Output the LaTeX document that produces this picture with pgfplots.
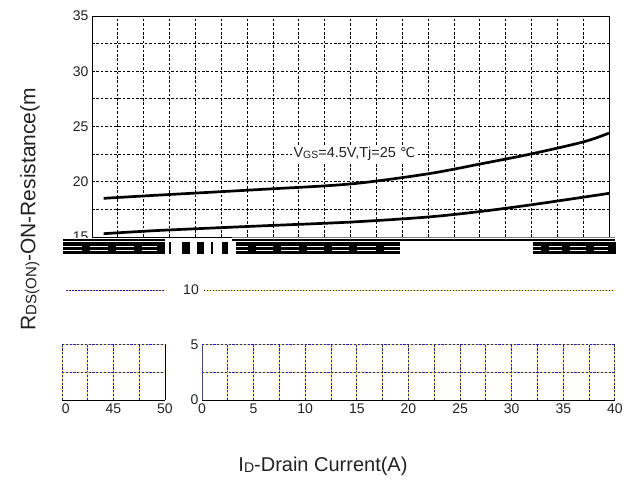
\documentclass[border=0pt]{standalone}
\usepackage{fontspec}
\setmainfont{Liberation Sans}
\newfontfamily\dejavu{DejaVu Sans}
\usepackage{pgfplots}
\pgfplotsset{compat=1.18}
\definecolor{gridyel}{HTML}{EEDC30}
\definecolor{gridblu}{HTML}{2020C8}
\definecolor{txt}{HTML}{222222}

\pgfplotsset{
  ticklbl/.style={
    tick label style={font=\fontsize{14}{14}\selectfont, text=txt},
    /pgf/number format/assume math mode=true,
    major tick length=0, minor tick length=0},
  ybgrid/.style={
    grid=both,
    major grid style={gridyel, line width=1pt, postaction={draw=gridblu, line width=1pt, dash pattern=on 2.2pt off 1.6pt}},
    minor grid style={gridyel, line width=1pt, postaction={draw=gridblu, line width=1pt, dash pattern=on 2.2pt off 1.6pt}}},
}

\begin{document}
\begin{tikzpicture}
\begin{scope}[x=1pt,y=-1pt]
\path[use as bounding box] (0,0) rectangle (638,481);
\end{scope}

% upper panel
\begin{axis}[
  at={(92pt,-237pt)}, anchor=south west,
  width=517pt, height=221pt, scale only axis,
  xmin=0, xmax=40, ymin=15, ymax=35,
  xtick={0,2,...,40}, xticklabels={},
  ytick={15,20,...,35}, minor ytick={17.5,22.5,27.5,32.5},
  grid=both,
  major grid style={black, line width=0.8pt, dash pattern=on 2.6pt off 1.8pt},
  minor grid style={black, line width=0.8pt, dash pattern=on 2.6pt off 1.8pt},
  axis line style={black, line width=0.9pt},
  ticklbl,
]
\addplot[black, line width=2.7pt, smooth] coordinates {
  (0.9,18.5) (5.3,18.8) (13,19.3) (20,19.8) (25.9,20.7) (30,21.6) (33.9,22.5) (38,23.6) (40,24.4)};
\addplot[black, line width=2.7pt, smooth] coordinates {
  (0.9,15.3) (5.3,15.6) (13,16.0) (20,16.35) (25.9,16.8) (30,17.3) (33.9,17.9) (38,18.6) (40,18.95)};
\node[fill=white, inner sep=1.5pt, font=\fontsize{14.5}{14.5}\selectfont, text=txt]
  at (axis cs:20.3,22.5) {V\raisebox{-0.6pt}{\fontsize{10.5}{10.5}\selectfont GS}=4.5V,Tj=25 {\dejavu\fontsize{13.5}{13.5}\selectfont ℃}};
\end{axis}

% lower right panel
\begin{axis}[
  at={(202pt,-400pt)}, anchor=south west,
  width=413pt, height=55pt, scale only axis,
  xmin=0, xmax=40, ymin=0, ymax=5,
  xtick={0,5,...,40}, minor xtick={2.5,7.5,...,37.5},
  ytick={0,5}, minor ytick={2.5},
  ybgrid,
  axis x line*=bottom, axis y line*=left,
  x axis line style={black, line width=1pt},
  y axis line style={draw={rgb,255:red,70;green,70;blue,150}, line width=1pt},
  ticklbl, clip=false,
]
\draw[gridyel, line width=0.9pt, postaction={draw=gridblu, dash pattern=on 1.4pt off 1.6pt}]
  (axis cs:0.2,10) -- (axis cs:40,10);
\node[anchor=east, inner sep=3pt, font=\fontsize{14}{14}\selectfont, text=txt] at (axis cs:0,10) {10};
\end{axis}

% lower left panel
\begin{axis}[
  at={(165pt,-400pt)}, anchor=south east,
  width=103pt, height=55pt, scale only axis,
  xmin=40, xmax=50, ymin=0, ymax=5,
  xtick={40,45,50}, minor xtick={42.5,47.5},
  ytick={5}, minor ytick={2.5}, yticklabels={},
  ybgrid,
  axis x line*=bottom, axis y line*=right,
  axis line style={black, line width=1pt},
  ticklbl, clip=false,
]
\draw[gridyel, line width=0.9pt, postaction={draw=gridblu, dash pattern=on 1.4pt off 1.6pt}]
  (axis cs:40.4,10) -- (axis cs:50,10);
\end{axis}

\begin{scope}[x=1pt,y=-1pt]
% cut-off parts
\fill[white] (0,403) rectangle (61,425);
\fill[white] (55,238.3) rectangle (625,258);
% broken band
\draw[gray, line width=0.8pt] (232,237.6) -- (615,237.6);
\draw[black, line width=1.4pt] (63,240.2) -- (165,240.2) (232,240.2) -- (615,240.2);
\foreach \xa/\xb/\bl in {63/165/{86,112,138,161}, 236/400/{252,277,303,328,353,380}, 533/616/{545,566,590,612}} {
  \fill[black] (\xa,242.5) rectangle (\xb,254.5);
  \draw[white, line width=1.3pt] (\xa,246.3) -- (\xb,246.3) (\xa,250.7) -- (\xb,250.7);
  \foreach \b in \bl {\fill[black] (\b-4,242.5) rectangle (\b+4,254.5);}
}
\draw[black, line width=1.2pt] (170,242.5) -- (170,254.5) (212,242.5) -- (212,254.5);
\fill[black] (182,242.5) rectangle (190,254.5);
\fill[black] (197,242.5) rectangle (204,254.5);
\fill[black] (222,242.5) rectangle (228,254.5);
% axis titles
\node[rotate=90, font=\fontsize{21}{21}\selectfont, text=txt] at (30,209)
  {R\raisebox{-1pt}{\fontsize{15}{15}\selectfont DS(ON)}-ON-Resistance(m};
\node[font=\fontsize{20}{20}\selectfont, text=txt] at (323,466)
  {I\raisebox{-1pt}{\fontsize{14}{14}\selectfont D}-Drain Current(A)};
\end{scope}
\end{tikzpicture}
\end{document}
